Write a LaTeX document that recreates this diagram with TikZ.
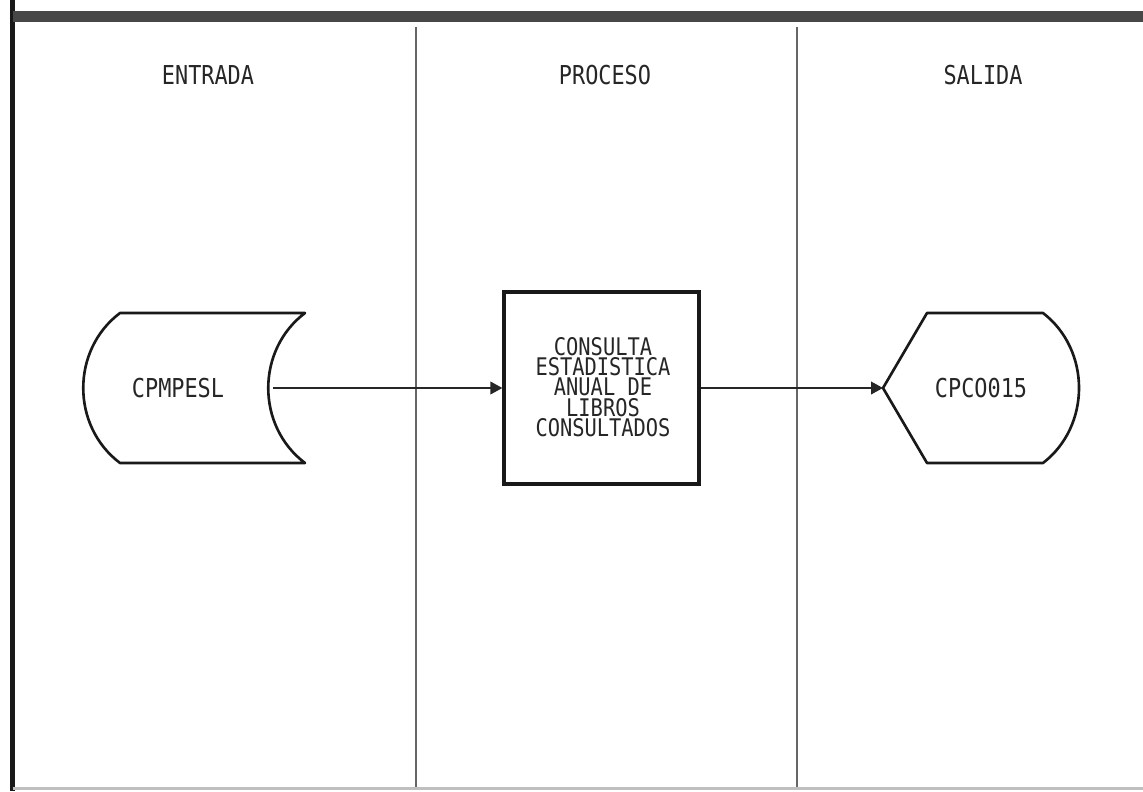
\documentclass[tikz,border=0pt]{standalone}
\usepackage{fontspec}
\newfontfamily\plotter[FakeStretch=0.84]{DejaVu Sans Mono}
\usetikzlibrary{arrows.meta}
\begin{document}
\begin{tikzpicture}[x=0.01cm,y=-0.01cm,
  hdr/.style={font=\plotter\fontsize{7.4}{8}\selectfont, text=black!85, inner sep=0pt},
  lbl/.style={font=\plotter\fontsize{6.9}{5.8}\selectfont, text=black!85, inner sep=0pt, align=center},
  shp/.style={draw=black!90, line width=0.75pt, line join=round},
  procbox/.style={draw=black!90, line width=0.9pt, minimum width=1.95cm, minimum height=1.92cm, inner sep=0pt},
  divider/.style={draw=black!60, line width=0.35pt},
  conn/.style={draw=black!85, line width=0.45pt, -{Triangle[length=3.4pt,width=3.6pt]}}]
\useasboundingbox (0,0) rectangle (1143,791);
\fill[white] (0,0) rectangle (1143,791);
% frame
\draw[line width=1.3pt, black!90] (12.5,0) -- (12.5,791);
\fill[black!72] (12.5,11) rectangle (1143,22);
\draw[black!25, line width=0.6pt] (12.5,788.5) -- (1143,788.5);
% column dividers
\draw[divider] (416,27) -- (416,787);
\draw[divider] (797,27) -- (797,787);
% headers
\node[hdr] (hEnt) at (208,75) {ENTRADA};
\node[hdr] (hPro) at (605,75) {PROCESO};
\node[hdr] (hSal) at (983,75) {SALIDA};
% input (stored data)
\draw[shp] (120,313) -- (305,313) .. controls (256,350) and (256,426) .. (305,463)
  -- (120,463) .. controls (71,426) and (71,350) .. (120,313) -- cycle;
\node[hdr] (in) at (178,388) {CPMPESL};
\coordinate (inR) at (273,388);
% process
\node[procbox] (proc) at (601.5,388) {};
\node[lbl] (procTxt) at (603,387) {CONSULTA\\ESTADISTICA\\ANUAL DE\\LIBROS\\CONSULTADOS};
% output (display)
\draw[shp] (883,388) -- (927,313) -- (1043,313) .. controls (1091,350) and (1091,426) .. (1043,463)
  -- (927,463) -- cycle;
\node[hdr] (out) at (981,388) {CPCO015};
\coordinate (outL) at (883,388);
% connectors
\draw[conn] (inR) -- (proc.west);
\draw[conn] (proc.east) -- (outL);
\end{tikzpicture}
\end{document}
